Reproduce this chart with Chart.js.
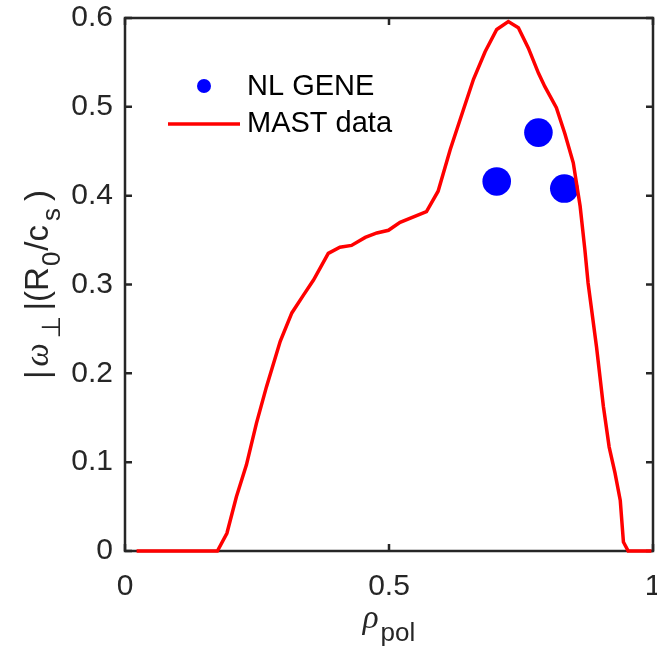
<!DOCTYPE html>
<html>
<head>
<meta charset="utf-8">
<script src="https://cdn.jsdelivr.net/npm/chart.js@4.4.0/dist/chart.umd.min.js"></script>
<style>
  html, body { margin: 0; padding: 0; background: #fff; overflow: hidden; }
  #wrap { width: 657px; height: 646px; position: relative; }
  canvas { display: block; }
</style>
</head>
<body>
<div id="wrap"><canvas id="chart"></canvas></div>
<script>
// MAST data profile
const rhoMast = [0.022, 0.175, 0.193, 0.211, 0.230, 0.249, 0.268, 0.294, 0.316, 0.338, 0.357,
  0.385, 0.407, 0.429, 0.455, 0.477, 0.499, 0.521, 0.571, 0.593, 0.616, 0.641, 0.660, 0.682,
  0.704, 0.726, 0.745, 0.764, 0.783, 0.795, 0.817, 0.833, 0.849, 0.862, 0.871, 0.877, 0.893,
  0.906, 0.917, 0.928, 0.938, 0.944, 0.953, 0.997];
const omegaMast = [0, 0, 0.020, 0.061, 0.097, 0.144, 0.185, 0.236, 0.268, 0.288, 0.305,
  0.335, 0.342, 0.344, 0.353, 0.358, 0.361, 0.370, 0.382, 0.405, 0.452, 0.497, 0.531, 0.562,
  0.587, 0.596, 0.589, 0.566, 0.538, 0.523, 0.499, 0.470, 0.437, 0.388, 0.339, 0.302, 0.230,
  0.163, 0.117, 0.088, 0.057, 0.010, 0, 0];

// NL GENE points
const rhoGene = [0.704, 0.783, 0.832];
const omegaGene = [0.416, 0.471, 0.408];

const xTicks = [0, 0.5, 1];
const yTicks = [0, 0.1, 0.2, 0.3, 0.4, 0.5, 0.6];

const AX = '#262626';
const SANS = '"Liberation Sans", Arial, "DejaVu Sans", sans-serif';

const toXY = (xs, ys) => xs.map((x, i) => ({ x, y: ys[i] }));

// box + inward ticks, drawn under the data like MATLAB
const boxPlugin = {
  id: 'box',
  beforeDatasetsDraw(chart) {
    const { ctx, chartArea: a, scales: { x, y } } = chart;
    const tl = 7;
    ctx.save();
    ctx.strokeStyle = AX;
    ctx.lineWidth = 2.5;
    ctx.strokeRect(a.left, a.top, a.right - a.left, a.bottom - a.top);
    ctx.beginPath();
    xTicks.forEach(v => {
      const px = x.getPixelForValue(v);
      ctx.moveTo(px, a.bottom); ctx.lineTo(px, a.bottom - tl);
      ctx.moveTo(px, a.top); ctx.lineTo(px, a.top + tl);
    });
    yTicks.forEach(v => {
      const py = y.getPixelForValue(v);
      ctx.moveTo(a.left, py); ctx.lineTo(a.left + tl, py);
      ctx.moveTo(a.right, py); ctx.lineTo(a.right - tl, py);
    });
    ctx.stroke();

    // x tick labels (drawn here so the last label does not shrink the plot)
    ctx.fillStyle = AX;
    ctx.font = '30px ' + SANS;
    ctx.textAlign = 'center';
    ctx.textBaseline = 'alphabetic';
    xTicks.forEach(v => ctx.fillText(String(v), x.getPixelForValue(v), a.bottom + 44));
    ctx.restore();
  }
};

// text with subscripts
function richWidth(ctx, parts) {
  return parts.reduce((w, p) => { ctx.font = p.f; return w + ctx.measureText(p.t).width + (p.gap || 0); }, 0);
}
function drawRich(ctx, parts, x, y) {
  let cx = x;
  parts.forEach(p => {
    ctx.font = p.f;
    ctx.fillText(p.t, cx, y + (p.dy || 0));
    cx += ctx.measureText(p.t).width + (p.gap || 0);
  });
}

const titlePlugin = {
  id: 'titles',
  afterDraw(chart) {
    const { ctx, chartArea: a } = chart;
    const main = '33px ' + SANS;
    const sub = '26px ' + SANS;
    const greek = 'italic 33px "Liberation Serif", "DejaVu Serif", serif';
    ctx.save();
    ctx.fillStyle = AX;
    ctx.textBaseline = 'alphabetic';
    ctx.textAlign = 'left';

    // x title: rho_pol
    const xParts = [{ t: 'ρ', f: greek, gap: 2 }, { t: 'pol', f: sub, dy: 13 }];
    const xw = richWidth(ctx, xParts);
    drawRich(ctx, xParts, (a.left + a.right) / 2 - xw / 2, 628);

    // y title: |omega_perp|(R_0/c_s)
    const yParts = [
      { t: '|', f: main, gap: 4 },
      { t: 'ω', f: greek, gap: 5 },
      { t: '⊥', f: sub, dy: 12, gap: 5 },
      { t: '|(R', f: main, gap: 1 },
      { t: '0', f: sub, dy: 12, gap: 1 },
      { t: '/c', f: main, gap: 4 },
      { t: 's', f: sub, dy: 12, gap: 7 },
      { t: ')', f: main }
    ];
    const yw = richWidth(ctx, yParts);
    ctx.translate(48, (a.top + a.bottom) / 2);
    ctx.rotate(-Math.PI / 2);
    drawRich(ctx, yParts, -yw / 2, 0);
    ctx.restore();
  }
};

// legend without box, top-left inside the axes
const legendPlugin = {
  id: 'legendBox',
  afterDraw(chart) {
    const { ctx } = chart;
    const ds = chart.data.datasets;
    ctx.save();
    ctx.font = '29px ' + SANS;
    ctx.textBaseline = 'middle';
    // NL GENE
    ctx.beginPath();
    ctx.arc(204, 86, 7, 0, Math.PI * 2);
    ctx.fillStyle = ds[1].backgroundColor;
    ctx.fill();
    ctx.fillStyle = '#000';
    ctx.fillText(ds[1].label, 247, 87);
    // MAST data
    ctx.strokeStyle = ds[0].borderColor;
    ctx.lineWidth = 3.5;
    ctx.beginPath();
    ctx.moveTo(168, 124); ctx.lineTo(240, 124);
    ctx.stroke();
    ctx.fillText(ds[0].label, 247, 124);
    ctx.restore();
  }
};

new Chart(document.getElementById('chart'), {
  type: 'scatter',
  data: {
    datasets: [
      {
        label: 'MAST data',
        data: toXY(rhoMast, omegaMast),
        showLine: true,
        borderColor: '#ff0000',
        borderWidth: 3.5,
        pointRadius: 0,
        tension: 0,
        clip: false
      },
      {
        label: 'NL GENE',
        data: toXY(rhoGene, omegaGene),
        backgroundColor: '#0000ff',
        borderWidth: 0,
        pointRadius: 14.3,
        clip: false
      }
    ]
  },
  options: {
    responsive: true,
    maintainAspectRatio: false,
    animation: false,
    layout: { autoPadding: false, padding: { top: 18, right: 4, left: 0, bottom: 0 } },
    plugins: {
      legend: { display: false },
      tooltip: { enabled: false }
    },
    scales: {
      x: {
        type: 'linear',
        min: 0, max: 1,
        afterBuildTicks: s => { s.ticks = xTicks.map(v => ({ value: v })); },
        afterFit: s => { s.height = 95; },
        grid: { display: false, drawTicks: false },
        border: { display: false },
        ticks: { display: false }
      },
      y: {
        type: 'linear',
        min: 0, max: 0.6,
        afterBuildTicks: s => { s.ticks = yTicks.map(v => ({ value: v })); },
        afterFit: s => { s.width = 125; s.paddingTop = 0; s.paddingBottom = 0; },
        grid: { display: false, drawTicks: false },
        border: { display: false },
        ticks: {
          padding: 12,
          color: AX,
          font: { family: SANS, size: 30 },
          callback: v => String(Math.round(v * 10) / 10)
        }
      }
    }
  },
  plugins: [boxPlugin, titlePlugin, legendPlugin]
});
</script>
</body>
</html>
